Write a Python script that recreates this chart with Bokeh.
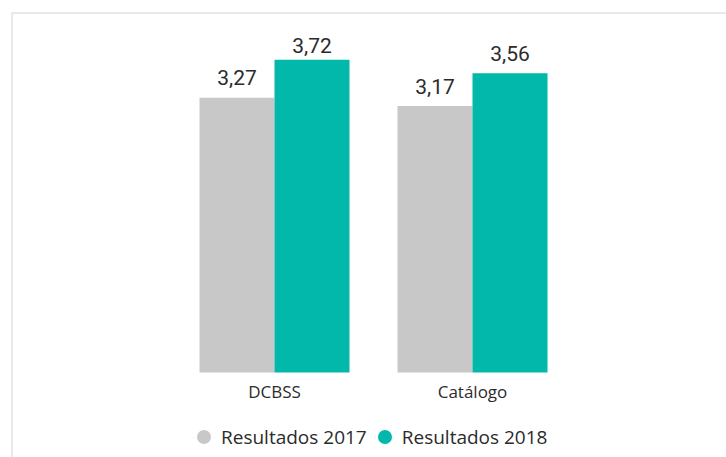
import math
from bokeh.plotting import figure
from bokeh.models import Range1d, Span, Legend, LegendItem, ColumnDataSource
from bokeh.core.properties import value
from bokeh.embed import file_html
from bokeh.resources import INLINE

# ---- data ----
categories = ["DCBSS", "Catálogo"]
series_names = ["Resultados 2017", "Resultados 2018"]
values_2017 = [3.27, 3.17]
values_2018 = [3.72, 3.56]
series_colors = ["#C8C8C8", "#01B8AA"]

# ---- layout (pixels) ----
W, H = 726, 457
frame_left, frame_top = 11, 12
zero_px = 372          # screen row of value 0
px_per_unit = 84.05    # screen pixels per value unit
first_center = 274     # screen column of first category centre
spacing = 198          # pixels between category centres
bar_px = 75

x_start = (frame_left - first_center) / spacing
x_end = (W - first_center) / spacing
y_start = -(H - zero_px) / px_per_unit
y_end = (zero_px - frame_top) / px_per_unit
bw = bar_px / spacing

p = figure(width=W, height=H, output_backend="svg", toolbar_location=None,
           x_range=Range1d(x_start, x_end), y_range=Range1d(y_start, y_end),
           x_axis_location=None, y_axis_location=None,
           min_border_left=frame_left, min_border_top=frame_top,
           min_border_right=0, min_border_bottom=0)
p.grid.visible = False
p.outline_line_color = None
p.background_fill_color = "white"
p.border_fill_color = "white"

label_color = "#2B2B2B"
idx = list(range(len(categories)))
all_vals = values_2017 + values_2018
vmax = max(all_vals)

legend_items = []
for s, (vals, col, name) in enumerate(zip([values_2017, values_2018], series_colors, series_names)):
    xs = [i + (s - 0.5) * bw for i in idx]
    src = ColumnDataSource(dict(x=xs, top=vals))
    p.vbar(x="x", top="top", width=bw, bottom=0, source=src,
           fill_color=col, line_color=None)
    for xv, v in zip(xs, vals):
        lsrc = ColumnDataSource(dict(x=[xv], y=[v], t=[f"{v:.2f}".replace(".", ",")]))
        p.text(x="x", y="y", text="t", source=lsrc,
               y_offset=(-14 if v == vmax else -20),
               text_align="center", text_baseline="middle",
               text_font=value("Roboto"), text_font_size="21px",
               text_font_style="normal",
               text_color=label_color)
    lr = p.scatter(x="x", y="y", source=ColumnDataSource(dict(x=[0.0], y=[math.nan])),
                   marker="circle", fill_color=col, line_color=None, size=15)
    legend_items.append(LegendItem(label=name, renderers=[lr]))

cat_src = ColumnDataSource(dict(x=idx, y=[0] * len(categories), t=categories))
p.text(x="x", y="y", text="t", source=cat_src, y_offset=19,
       text_align="center", text_baseline="middle",
       text_font=value("Open Sans"), text_font_size="17px",
       text_color=label_color)

legend = Legend(items=legend_items, orientation="horizontal",
                location=(175, 3), margin=0, padding=0,
                glyph_width=35, glyph_height=35, label_standoff=-5,
                spacing=-5, border_line_color=None, background_fill_alpha=0,
                label_text_font="Open Sans", label_text_font_size="19px",
                label_text_color=label_color)
p.add_layout(legend)

frame_color = "#D6D6D6"
p.add_layout(Span(location=x_start, dimension="height", line_color=frame_color, line_width=2))
p.add_layout(Span(location=y_end, dimension="width", line_color=frame_color, line_width=2))

open("out.html", "w").write(file_html(p, INLINE))
